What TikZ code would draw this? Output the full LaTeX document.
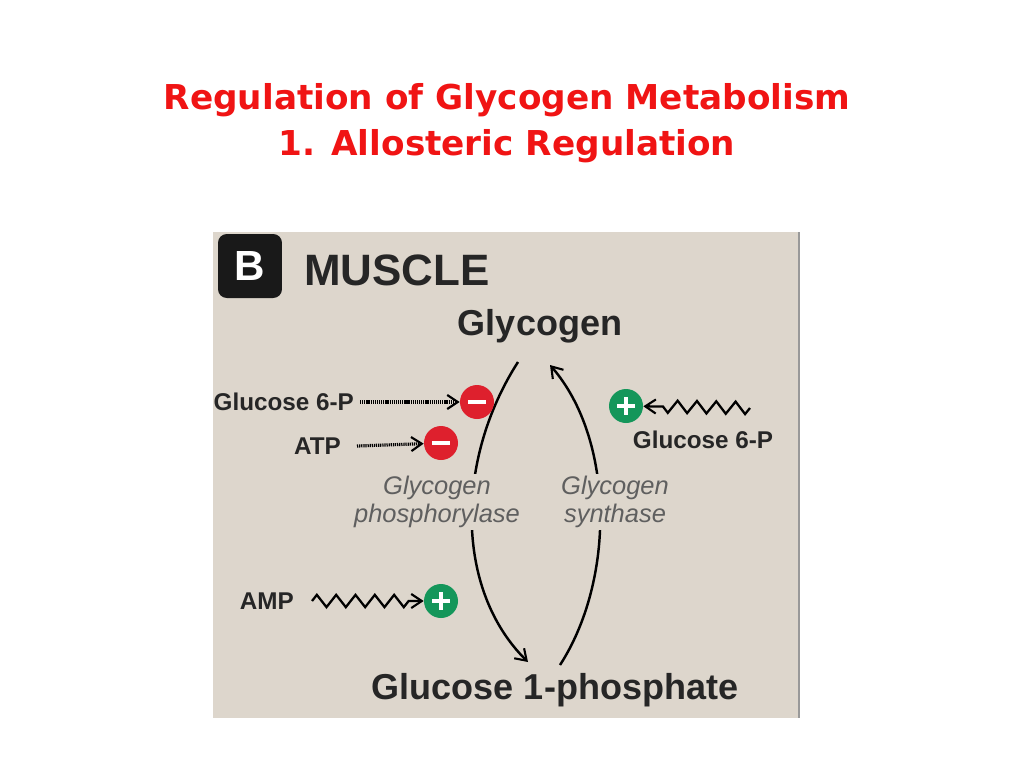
\documentclass[tikz,border=0pt]{standalone}
\usepackage{fontspec}
\setmainfont{Liberation Sans}
\newfontfamily\titlefont{DejaVu Sans}
\usetikzlibrary{arrows.meta,decorations.pathmorphing}
\definecolor{panelbg}{RGB}{221,214,204}
\definecolor{titlered}{RGB}{240,20,20}
\definecolor{minusred}{RGB}{222,32,45}
\definecolor{plusgreen}{RGB}{20,150,90}
\definecolor{enzgray}{RGB}{95,95,95}
\begin{document}
\begin{tikzpicture}[x=0.02cm,y=-0.02cm,>={Straight Barb[length=6pt,width=8pt,line width=1.2pt]}]
        \tikzstyle{metab}=[font=\bfseries\fontsize{20.5}{24}\selectfont,text=black!85]
        \tikzstyle{effector}=[font=\bfseries\fontsize{13.8}{16}\selectfont,text=black!85]
        \tikzstyle{enzyme}=[font=\itshape\fontsize{14.5}{16}\selectfont,text=enzgray,fill=panelbg,align=center,inner sep=1pt]
        \tikzstyle{inhib}=[circle,fill=minusred,minimum size=0.68cm,inner sep=0pt]
        \tikzstyle{activ}=[circle,fill=plusgreen,minimum size=0.68cm,inner sep=0pt]
        \tikzstyle{sign}=[white,line width=2.4pt]
        \tikzstyle{dotted arrow}=[->,line width=1.8pt,dash pattern=on 0.7pt off 0.5pt]
        \tikzstyle{wavy arrow}=[->,line width=1.3pt,decorate,decoration={zigzag,amplitude=3.5pt,segment length=11pt,post length=6pt}]

        \useasboundingbox[fill=white] (0,0) rectangle (1024,768);
        % title
        \node[text=titlered,font=\titlefont\bfseries\fontsize{19.5}{26}\selectfont,align=center] (title) at (507,123)
            {Regulation of Glycogen Metabolism\\1. Allosteric Regulation};
        % panel
        \fill[panelbg] (213,232) rectangle (800,718);
        \draw[black!40,line width=1pt] (799,232) -- (799,718);
        \node[fill=black!90,rounded corners=5pt,minimum size=1.28cm,text=white,font=\bfseries\fontsize{24}{26}\selectfont] (b) at (250,266) {B};
        \node[anchor=west,font=\bfseries\fontsize{25}{28}\selectfont,text=black!85] (muscle) at (298,270) {MUSCLE};

        \node[metab] (glycogen) at (540,326) {Glycogen};
        \node[metab] (g1p) at (555,690) {Glucose 1-phosphate};

        % cycle, enzyme labels drawn over it
        \draw[line width=1.4pt,->] (518,362) .. controls (455,460) and (455,590) .. (528,662);
        \draw[line width=1.4pt,->] (560,665) .. controls (615,580) and (615,440) .. (550,365);
        \node[enzyme] (phos) at (437,502) {Glycogen\\phosphorylase};
        \node[enzyme] (synth) at (615,502) {Glycogen\\synthase};

        % effectors
        \node[inhib] (m1) at (477,402) {};
        \node[inhib] (m2) at (441,443) {};
        \node[activ] (p1) at (441,601) {};
        \node[activ] (p2) at (626,406) {};
        \foreach \s in {m1,m2,p1,p2}
            \draw[sign] ([xshift=-5pt]\s.center) -- ([xshift=5pt]\s.center);
        \foreach \s in {p1,p2}
            \draw[sign] ([yshift=-5pt]\s.center) -- ([yshift=5pt]\s.center);

        \node[effector,anchor=east] (g6pl) at (360,402) {Glucose 6-P};
        \node[effector,anchor=east] (atp) at (347,446) {ATP};
        \node[effector,anchor=east] (amp) at (300,601) {AMP};
        \node[effector] (g6pr) at (703,440) {Glucose 6-P};
        \coordinate (wr) at (750,408);

        \draw[dotted arrow] (g6pl) -- (m1);
        \draw[dotted arrow] (atp.east) ++(10,0) -- (m2);
        \draw[wavy arrow] (amp.east) ++(12,0) -- (p1);
        \draw[wavy arrow] (wr) -- (p2);
\end{tikzpicture}
\end{document}
